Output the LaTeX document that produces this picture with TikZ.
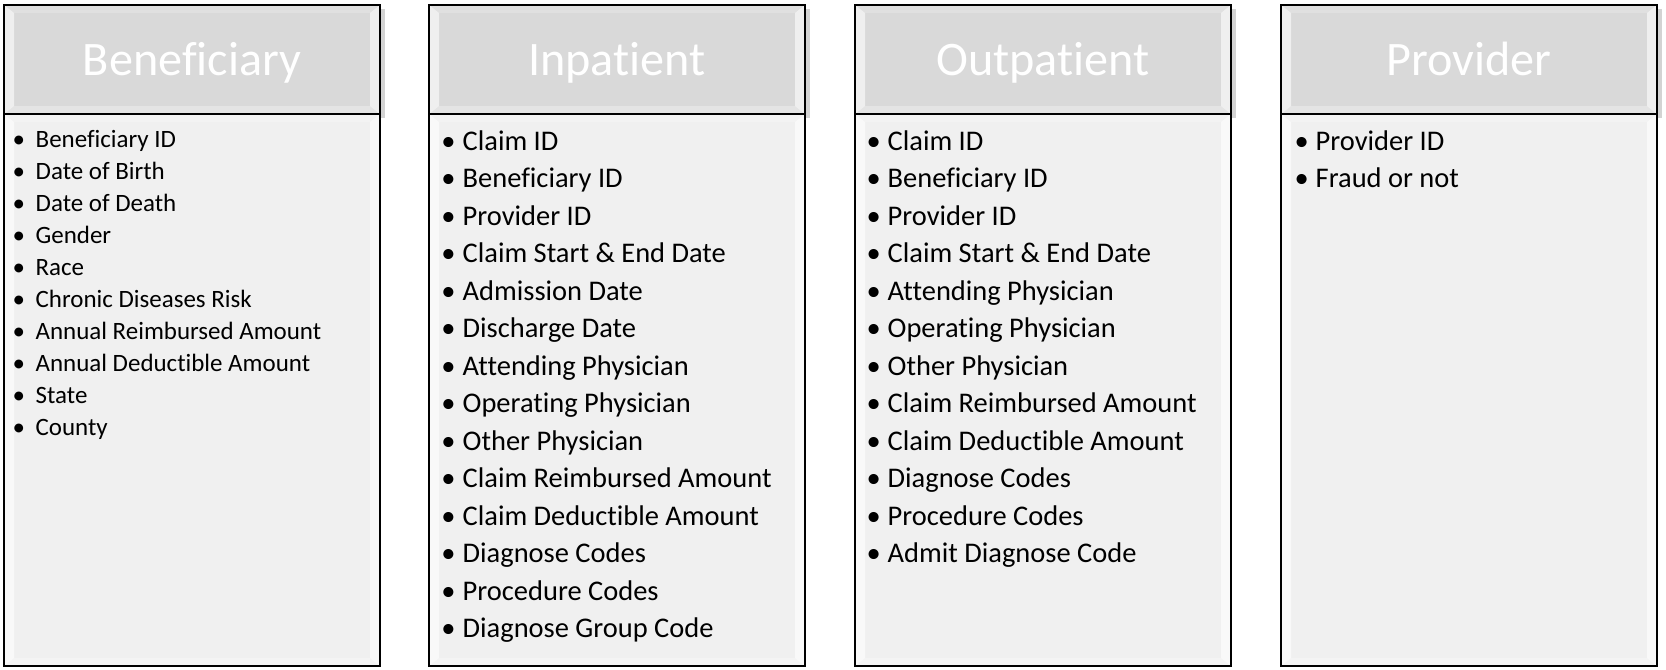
\documentclass[tikz,border=0pt]{standalone}
\usepackage{fontspec}
\setmainfont[Ligatures=NoCommon]{Carlito}
\usetikzlibrary{positioning,shadows}

\definecolor{headgray}{HTML}{D9D9D9}
\definecolor{bodygray}{HTML}{F0F0F0}

\tikzset{
	glint/.style={fill=white, draw=none},
	bevel/.style={path picture={
		\path (path picture bounding box.south west) coordinate (pp-sw)
			(path picture bounding box.north east) coordinate (pp-ne)
			(pp-sw |- pp-ne) coordinate (pp-nw)
			(pp-ne |- pp-sw) coordinate (pp-se);
		\fill[glint, opacity=0.6] (pp-sw) -- ([shift={(0.1,0.08)}]pp-sw) -- ([shift={(0.1,-0.08)}]pp-nw) -- (pp-nw) -- cycle;
		\fill[glint, opacity=0.6] (pp-se) -- ([shift={(-0.1,0.08)}]pp-se) -- ([shift={(-0.1,-0.08)}]pp-ne) -- (pp-ne) -- cycle;
		\fill[glint, opacity=0.2] (pp-nw) -- ([shift={(0.1,-0.08)}]pp-nw) -- ([shift={(-0.1,-0.08)}]pp-ne) -- (pp-ne) -- cycle;
		\fill[glint, opacity=0.3] (pp-sw) -- ([shift={(0.1,0.08)}]pp-sw) -- ([shift={(-0.1,0.08)}]pp-se) -- (pp-se) -- cycle;
	}},
	header/.style={draw=black, line width=0.6pt, fill=headgray, bevel, outer sep=0pt,
		minimum width=3.76cm, minimum height=1.09cm, text=white,
		font=\fontsize{13.7}{16}\selectfont, text height=0.31cm, text depth=0pt,
		drop shadow={shadow xshift=0.05cm, shadow yshift=-0.04cm, opacity=0.35}},
	panel/.style={draw=black, line width=0.6pt, fill=bodygray, bevel, outer sep=0pt,
		minimum width=3.76cm, minimum height=5.52cm},
	smallitem/.style={anchor=base west, inner sep=0pt,
		font=\fontsize{7.1}{8.5}\selectfont},
	item/.style={anchor=base west, inner sep=0pt,
		font=\fontsize{8.1}{9.7}\selectfont},
}

\begin{document}
\begin{tikzpicture}
	\useasboundingbox (0,0) rectangle (16.66,6.69);
	%table headers
	\node[header, anchor=north west] (benef) at (0.04,6.64) {Beneficiary};
	\node[header, right=0.49cm of benef] (inpat) {Inpatient};
	\node[header, right=0.50cm of inpat] (outpat) {Outpatient};
	\node[header, right=0.50cm of outpat] (prov) {Provider};

	%table bodies
	\node[panel, below=0pt of benef] (benefbody) {};
	\node[panel, below=0pt of inpat] (inpatbody) {};
	\node[panel, below=0pt of outpat] (outpatbody) {};
	\node[panel, below=0pt of prov] (provbody) {};

	%fields
	\foreach \t [count=\i] in {Beneficiary ID, Date of Birth, Date of Death, Gender, Race,
		Chronic Diseases Risk, Annual Reimbursed Amount, Annual Deductible Amount, State, County}{
		\node[smallitem] (benef-\i) at ([shift={(0.31,{-0.01-0.32*\i})}]benefbody.north west)
			{\llap{\textbullet\hspace{3pt}}\t};
	}
	\foreach \t [count=\i] in {Claim ID, Beneficiary ID, Provider ID, Claim Start \& End Date,
		Admission Date, Discharge Date, Attending Physician, Operating Physician, Other Physician,
		Claim Reimbursed Amount, Claim Deductible Amount, Diagnose Codes, Procedure Codes,
		Diagnose Group Code}{
		\node[item] (inpat-\i) at ([shift={(0.33,{0.015-0.375*\i})}]inpatbody.north west)
			{\llap{\textbullet\hspace{2pt}}\t};
	}
	\foreach \t [count=\i] in {Claim ID, Beneficiary ID, Provider ID, Claim Start \& End Date,
		Attending Physician, Operating Physician, Other Physician, Claim Reimbursed Amount,
		Claim Deductible Amount, Diagnose Codes, Procedure Codes, Admit Diagnose Code}{
		\node[item] (outpat-\i) at ([shift={(0.32,{0.015-0.375*\i})}]outpatbody.north west)
			{\llap{\textbullet\hspace{2pt}}\t};
	}
	\foreach \t [count=\i] in {Provider ID, Fraud or not}{
		\node[item] (prov-\i) at ([shift={(0.34,{0.015-0.375*\i})}]provbody.north west)
			{\llap{\textbullet\hspace{2pt}}\t};
	}
\end{tikzpicture}
\end{document}
